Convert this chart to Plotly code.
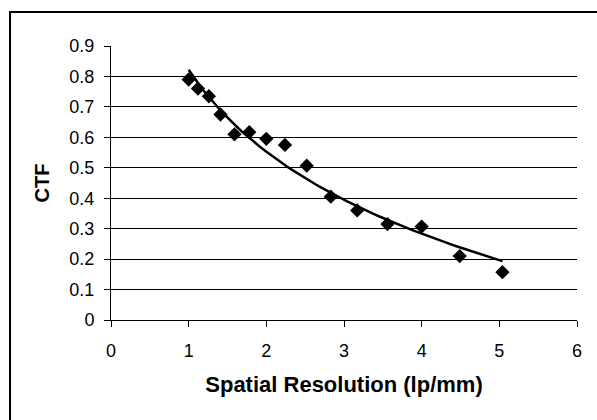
import numpy as np
import plotly.graph_objects as go

resolution = [1.00, 1.12, 1.26, 1.41, 1.59, 1.78, 2.00, 2.24, 2.52, 2.83, 3.17, 3.56, 4.00, 4.49, 5.04]
ctf = [0.79, 0.76, 0.735, 0.675, 0.61, 0.617, 0.595, 0.575, 0.507, 0.405, 0.36, 0.315, 0.307, 0.21, 0.157]
x_ticks = [0, 1, 2, 3, 4, 5, 6]
y_ticks = [0, 0.1, 0.2, 0.3, 0.4, 0.5, 0.6, 0.7, 0.8, 0.9]
y_labels = ["0", "0.1", "0.2", "0.3", "0.4", "0.5", "0.6", "0.7", "0.8", "0.9"]

# logarithmic trendline: y = a*ln(x) + b (least squares)
xr = np.array(resolution)
a, b = np.polyfit(np.log(xr), np.array(ctf), 1)
xt = np.linspace(xr.min(), xr.max(), 100)
yt = a * np.log(xt) + b

fig = go.Figure()
fig.add_trace(go.Scatter(x=resolution, y=ctf, mode="markers",
                         marker=dict(symbol="diamond", size=11, color="black"),
                         showlegend=False, hoverinfo="skip"))
fig.add_trace(go.Scatter(x=xt, y=yt, mode="lines",
                         line=dict(color="black", width=2.5),
                         showlegend=False, hoverinfo="skip"))

font_family = "Liberation Sans, Arial, sans-serif"
fig.update_layout(
    width=597, height=420,
    margin=dict(l=111, r=20, t=46, b=100),
    paper_bgcolor="white", plot_bgcolor="white",
    font=dict(family=font_family, color="black", size=18),
    xaxis=dict(range=[0, 6], tickvals=x_ticks, ticktext=[str(v) for v in x_ticks],
               showgrid=False, zeroline=False, showline=True, linecolor="black", linewidth=1,
               ticks="outside", ticklen=6, tickcolor="black", ticklabelstandoff=8,
               title=dict(text="<b>Spatial Resolution (lp/mm)</b>", font=dict(size=22), standoff=17)),
    yaxis=dict(range=[0, 0.9], tickvals=y_ticks, ticktext=y_labels,
               showgrid=True, gridcolor="black", gridwidth=1,
               zeroline=False, showline=True, linecolor="black", linewidth=1,
               ticks="outside", ticklen=6, tickcolor="black", ticklabelstandoff=6,
               title=dict(text="<b>CTF</b>", font=dict(size=20), standoff=14)),
    shapes=[dict(type="rect", xref="paper", yref="paper",
                 x0=-0.2167, x1=1.06, y0=-0.40, y1=1.124,
                 line=dict(color="black", width=2), layer="below")],
)

fig.write_html("out.html", config={"displayModeBar": False},
               post_script="document.body.style.margin='0px';")
